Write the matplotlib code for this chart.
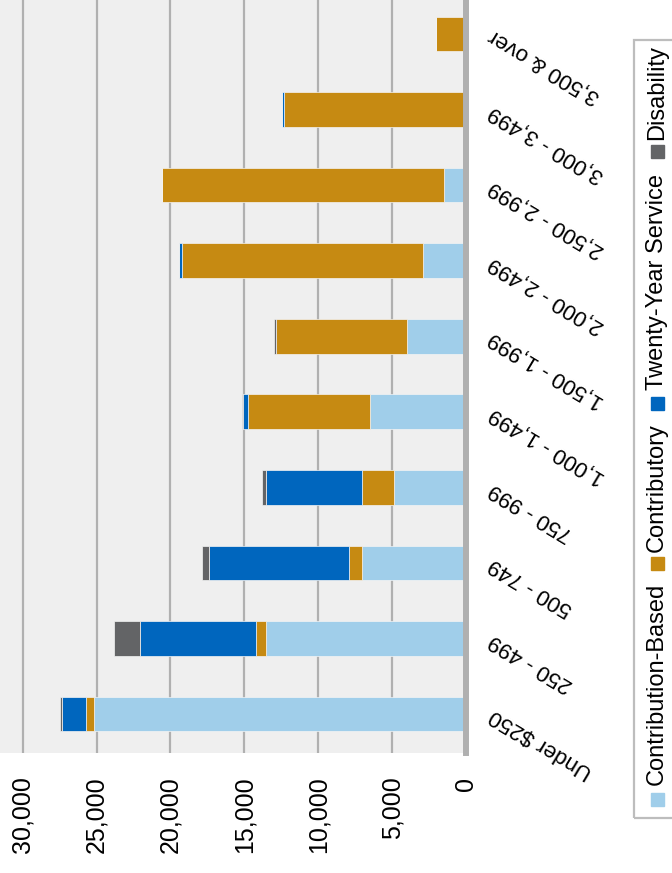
import matplotlib
matplotlib.use("Agg")
import matplotlib.pyplot as plt
from matplotlib.patches import Rectangle
import numpy as np

plt.rcParams["font.family"] = ["Liberation Sans", "DejaVu Sans"]

# Data
categories = ["Under $250", "250 - 499", "500 - 749", "750 - 999", "1,000 - 1,499",
              "1,500 - 1,999", "2,000 - 2,499", "2,500 - 2,999", "3,000 - 3,499",
              "3,500 & over"]
contribution_based = [25170, 13530, 7040, 4870, 6500, 3970, 2890, 1510, 0, 0]
contributory = [540, 680, 860, 2170, 8250, 8890, 16350, 19060, 12330, 2030]
twenty_year = [1600, 7870, 9470, 6520, 320, 30, 150, 0, 150, 0]
disability = [160, 1740, 500, 270, 90, 110, 0, 0, 0, 0]

series = [
    ("Contribution-Based", contribution_based, "#A0CEEA"),
    ("Contributory", contributory, "#C68A12"),
    ("Twenty-Year Service", twenty_year, "#0066BE"),
    ("Disability", disability, "#636466"),
]
value_ticks = [0, 5000, 10000, 15000, 20000, 25000, 30000]

W, H = 672, 873
fig = plt.figure(figsize=(W / 100, H / 100), dpi=100)

# plot area in pixel terms: x 0..466, y 0..753 (the chart is turned on its side)
ax = fig.add_axes([0, (H - 753) / H, 466 / W, 753 / H])
ax.set_facecolor("#EFEFEF")

y = np.arange(len(categories))
left = np.zeros(len(categories))
for name, vals, color in series:
    vals = np.array(vals, dtype=float)
    ax.barh(y, vals, left=left, height=0.46, color=color,
            edgecolor="#F4F4F4", linewidth=0.5, zorder=3)
    left += vals

ax.set_xlim(31534, 0)
ax.set_ylim(-0.516, 9.45)

# value axis (bottom)
ax.set_xticks(value_ticks)
ax.set_xticklabels([f"{v:,}" for v in value_ticks], rotation=90, fontsize=18)
ax.tick_params(axis="x", length=0, pad=17)
ax.grid(axis="x", color="#B0B0B0", linewidth=1.6, zorder=1)

# category axis (right)
ax.yaxis.tick_right()
ax.set_yticks(y)
ax.set_yticklabels(categories, fontsize=16, rotation=149, rotation_mode="anchor",
                   ha="right", va="center")
ax.tick_params(axis="y", length=0, pad=18)

for side in ["top", "left", "bottom"]:
    ax.spines[side].set_visible(False)
ax.spines["right"].set_color("#B0B0B0")
ax.spines["right"].set_linewidth(4.3)
ax.spines["right"].set_zorder(4)

# legend, turned on its side like the rest of the chart (box runs off the right edge)
fig.patches.append(Rectangle((634 / W, (H - 818) / H), 100 / W, 778 / H,
                             transform=fig.transFigure, fill=False,
                             edgecolor="#BDBDBD", linewidth=1.6))
legend_pos = [(799, 785), (563, 552), (403, 390), (151, 140)]
for (name, vals, color), (py, ty) in zip(series, legend_pos):
    fig.patches.append(Rectangle((651 / W, (H - py - 6.5) / H), 13 / W, 13 / H,
                                 transform=fig.transFigure, color=color))
    fig.text(657 / W, (H - ty) / H, name, rotation=90, fontsize=17,
             ha="center", va="bottom")

fig.savefig("out.png", dpi=100)
